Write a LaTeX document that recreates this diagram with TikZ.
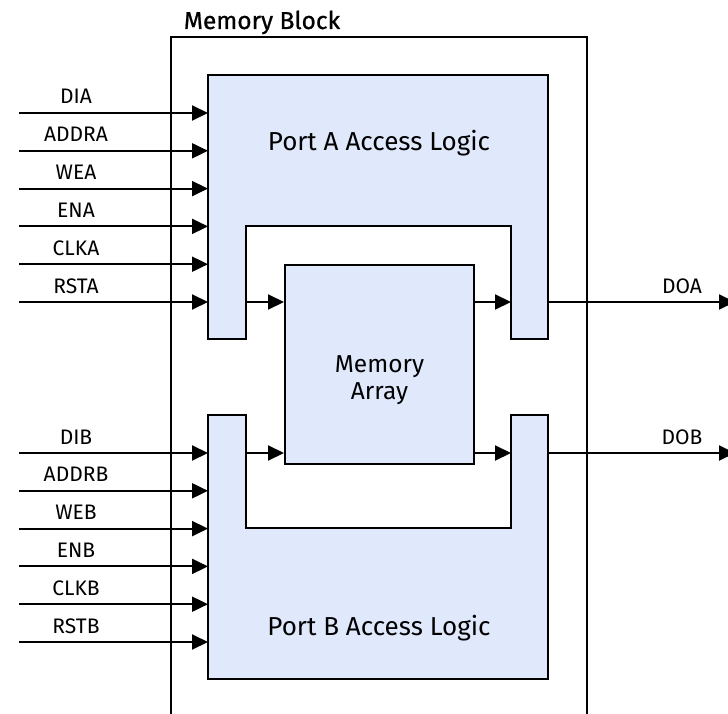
\documentclass[tikz,border=0pt]{standalone}
\usepackage{fontspec}
\setmainfont{Fira Sans}
\newfontfamily\titlefont[FakeBold=0.8]{Fira Sans}
\usetikzlibrary{arrows.meta}
\definecolor{portblue}{RGB}{224,232,252}

\begin{document}
\begin{tikzpicture}[x=1pt, y=-1pt,
            >={Triangle[length=16pt,width=15pt]},
            line width=2pt,
            block/.style={draw, fill=portblue},
            sig/.style={font=\fontsize{21}{24}\selectfont, anchor=base},
            big/.style={font=\fontsize{26}{27}\selectfont, align=center}]

        \useasboundingbox (0,0) rectangle (728,714);

        % memory block frame, open at the bottom
        \draw (171,714) -- (171,37) -- (587,37) -- (587,714);
        \node[font=\titlefont\fontsize{24.5}{28}\selectfont, anchor=base] (mb) at (262,29) {Memory Block};

        % port logic blocks
        \draw[block] (208,75) -- (548,75) -- (548,339) -- (511,339) -- (511,226)
                     -- (246,226) -- (246,339) -- (208,339) -- cycle;
        \draw[block] (208,415) -- (246,415) -- (246,528) -- (511,528) -- (511,415)
                     -- (548,415) -- (548,679) -- (208,679) -- cycle;
        \node[big, anchor=base] (pa) at (379,151) {Port A Access Logic};
        \node[big, anchor=base] (pb) at (379,635) {Port B Access Logic};

        \node[block, minimum width=189pt, minimum height=199pt,
              anchor=north west] (mem) at (284,264) {};
        \node[big, font=\fontsize{24.5}{27}\selectfont] (memtxt) at (mem.center |- 0,380) {Memory\\Array};

        % input ports
        \foreach \name [count=\i from 0] in {DIA,ADDRA,WEA,ENA,CLKA,RSTA} {
            \coordinate (inA\i) at (19,113+37.8*\i);
            \coordinate (pA\i)  at (208,113+37.8*\i);
            \draw[->] (inA\i) -- (pA\i);
            \node[sig] (lA\i) at (76,104+37.8*\i) {\name};
        }
        \foreach \name [count=\i from 0] in {DIB,ADDRB,WEB,ENB,CLKB,RSTB} {
            \coordinate (inB\i) at (19,453+37.8*\i);
            \coordinate (pB\i)  at (208,453+37.8*\i);
            \draw[->] (inB\i) -- (pB\i);
            \node[sig] (lB\i) at (76,444+37.8*\i) {\name};
        }

        % paths through the array
        \coordinate (a2m) at (246,302);
        \coordinate (b2m) at (246,453);
        \coordinate (m2a) at (511,302);
        \coordinate (m2b) at (511,453);
        \draw[->] (a2m) -- (a2m -| mem.west);
        \draw[->] (b2m) -- (b2m -| mem.west);
        \draw[->] (m2a -| mem.east) -- (m2a);
        \draw[->] (m2b -| mem.east) -- (m2b);

        % outputs
        \coordinate (qA) at (548,302);
        \coordinate (qB) at (548,453);
        \coordinate (doa) at (735,302);
        \coordinate (dob) at (735,453);
        \draw[->] (qA) -- (doa);
        \draw[->] (qB) -- (dob);
        \node[sig] (lqA) at (682,293) {DOA};
        \node[sig] (lqB) at (682,444) {DOB};

    \end{tikzpicture}
\end{document}
